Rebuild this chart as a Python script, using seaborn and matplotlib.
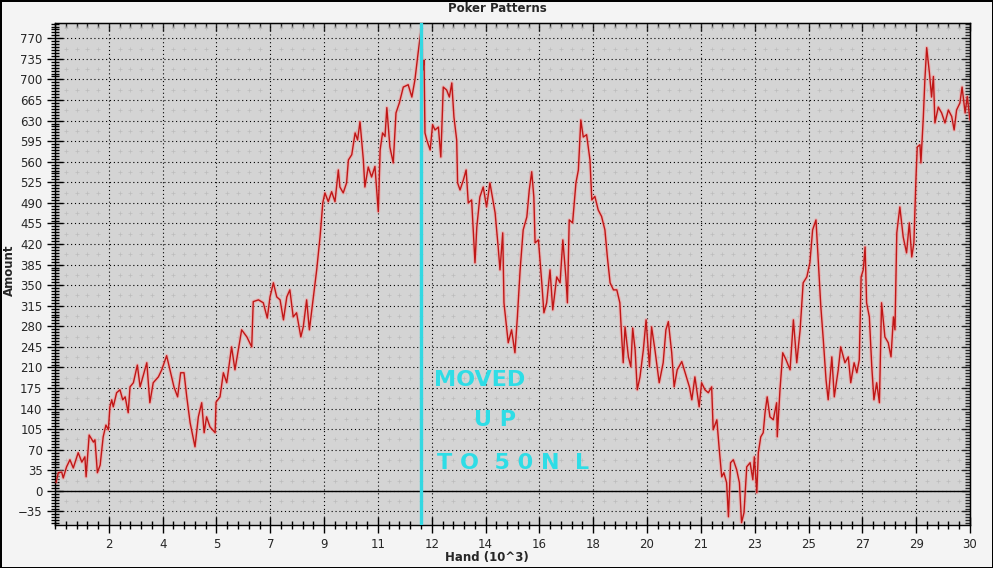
import numpy as np
import seaborn as sns
import matplotlib.pyplot as plt
from matplotlib.ticker import AutoMinorLocator

# running total, hands in thousands
hands = [
    0.03, 0.11, 0.22, 0.27, 0.38, 0.49, 0.60, 0.76, 0.88, 0.98,
    1.02, 1.09, 1.12, 1.26, 1.31, 1.39, 1.48, 1.58, 1.67, 1.75,
    1.80, 1.86, 1.91, 2.02, 2.13, 2.22, 2.30, 2.40, 2.46, 2.57,
    2.70, 2.79, 2.88, 3.01, 3.11, 3.22, 3.39, 3.50, 3.66, 3.77,
    3.90, 4.02, 4.12, 4.23, 4.32, 4.43, 4.59, 4.70, 4.81, 4.89,
    4.97, 5.08, 5.25, 5.28, 5.41, 5.52, 5.63, 5.79, 5.90, 6.01,
    6.12, 6.29, 6.45, 6.50, 6.67, 6.83, 6.96, 7.05, 7.16, 7.27,
    7.38, 7.49, 7.60, 7.70, 7.81, 7.92, 8.06, 8.14, 8.25, 8.34,
    8.47, 8.58, 8.69, 8.78, 8.85, 8.96, 9.07, 9.18, 9.29, 9.34,
    9.45, 9.56, 9.62, 9.73, 9.84, 9.92, 10.00, 10.11, 10.16, 10.27,
    10.38, 10.49, 10.60, 10.66, 10.74, 10.82, 10.88, 10.98, 11.09, 11.18,
    11.29, 11.42, 11.58, 11.70, 11.80, 11.91, 12.00, 12.06, 12.10, 12.13,
    12.19, 12.30, 12.38, 12.46, 12.57, 12.65, 12.73, 12.84, 12.93, 13.01,
    13.08, 13.17, 13.20, 13.28, 13.39, 13.48, 13.55, 13.66, 13.77, 13.83,
    13.93, 14.04, 14.15, 14.26, 14.43, 14.53, 14.59, 14.68, 14.72, 14.79,
    14.86, 14.97, 15.08, 15.16, 15.25, 15.35, 15.47, 15.55, 15.63, 15.70,
    15.74, 15.85, 15.96, 16.03, 16.12, 16.23, 16.32, 16.45, 16.56, 16.65,
    16.75, 16.80, 16.86, 16.97, 17.08, 17.16, 17.24, 17.32, 17.43, 17.54,
    17.60, 17.70, 17.81, 17.92, 18.03, 18.11, 18.20, 18.31, 18.42, 18.52,
    18.58, 18.63, 18.69, 18.80, 18.88, 18.94, 19.02, 19.09, 19.18, 19.29,
    19.38, 19.49, 19.56, 19.67, 19.81, 19.94, 20.03, 20.11, 20.22, 20.30,
    20.40, 20.55, 20.66, 20.80, 20.88, 20.98, 21.12, 21.20, 21.31, 21.42,
    21.53, 21.58, 21.70, 21.78, 21.86, 21.93, 22.02, 22.08, 22.15, 22.24,
    22.35, 22.44, 22.51, 22.59, 22.68, 22.79, 22.88, 22.93, 23.01, 23.06,
    23.14, 23.22, 23.28, 23.35, 23.44, 23.55, 23.66, 23.68, 23.77, 23.86,
    23.97, 24.10, 24.21, 24.32, 24.43, 24.53, 24.65, 24.75, 24.84, 24.95,
    25.03, 25.11, 25.19, 25.28, 25.35, 25.47, 25.55, 25.68, 25.76, 25.90,
    26.01, 26.09, 26.20, 26.29, 26.37, 26.43, 26.50, 26.56, 26.61, 26.70,
    26.78, 26.85, 26.94, 27.03, 27.10, 27.21, 27.32, 27.41, 27.49, 27.54,
    27.60, 27.70, 27.81, 27.92, 28.01, 28.09, 28.16, 28.23, 28.27, 28.36,
    28.39, 28.47, 28.52, 28.58, 28.67, 28.74, 28.80, 28.85, 28.96, 29.07,
    29.18, 29.29, 29.40, 29.48, 29.56, 29.67, 29.74, 29.84, 29.91, 30.00,
]
amounts = [
    14, 31, 32, 22, 41, 53, 39, 65, 49, 58,
    24, 75, 95, 83, 87, 31, 44, 92, 112, 104,
    143, 155, 143, 167, 172, 155, 160, 133, 177, 184,
    214, 177, 194, 218, 150, 184, 194, 206, 230, 206,
    177, 160, 201, 201, 160, 116, 75, 126, 150, 99,
    126, 109, 99, 151, 160, 201, 184, 245, 206, 240,
    274, 262, 245, 322, 325, 320, 294, 330, 354, 330,
    325, 291, 330, 342, 296, 303, 262, 279, 325, 274,
    330, 376, 432, 490, 507, 492, 509, 492, 546, 517,
    507, 524, 563, 572, 609, 597, 628, 563, 517, 551,
    534, 552, 475, 580, 609, 603, 652, 585, 558, 643,
    660, 687, 691, 670, 699, 747, 784, 716, 733, 609,
    597, 580, 623, 614, 619, 568, 687, 682, 670, 694,
    636, 597, 524, 512, 529, 546, 490, 495, 388, 449,
    500, 517, 483, 524, 473, 415, 376, 439, 320, 286,
    252, 274, 235, 296, 376, 444, 466, 512, 543, 500,
    422, 427, 354, 303, 320, 376, 308, 364, 354, 427,
    364, 320, 461, 456, 524, 546, 631, 602, 606, 563,
    495, 501, 478, 467, 444, 398, 354, 342, 342, 320,
    262, 218, 279, 228, 211, 277, 240, 172, 194, 240,
    291, 211, 279, 240, 184, 218, 274, 288, 235, 177,
    206, 220, 201, 177, 155, 194, 143, 184, 172, 167,
    177, 104, 121, 70, 24, 31, 14, -44, 48, 53,
    36, 14, -54, -37, 41, 48, 19, 58, -3, 65,
    92, 99, 133, 160, 126, 121, 150, 92, 172, 235,
    223, 206, 291, 218, 274, 354, 364, 388, 444, 461,
    388, 313, 257, 189, 155, 228, 160, 206, 245, 218,
    228, 184, 218, 201, 223, 364, 376, 415, 320, 296,
    211, 155, 184, 150, 320, 262, 252, 228, 296, 274,
    439, 483, 432, 405, 456, 398, 422, 534, 585, 589,
    558, 636, 699, 754, 711, 670, 705, 626, 653, 643,
    626, 648, 637, 614, 648, 660, 687, 643, 671, 631,
]

xtick_labels = ['2', '4', '5', '7', '9', '11', '12', '14', '16', '18',
                '20', '21', '23', '25', '27', '29', '30']
ytick_values = list(range(-35, 771, 35))
move_up_hand = 12.0

sns.set_style('ticks', {'axes.facecolor': '#d4d4d4', 'axes.edgecolor': 'black'})
plt.rcParams['font.family'] = ['DejaVu Sans']

fig = plt.figure(figsize=(9.93, 5.68), dpi=100, facecolor='#f4f4f4',
                 edgecolor='black', linewidth=2)
ax = fig.add_axes([55 / 993, 1 - 525 / 568, 915 / 993, 502 / 568])

ax.set_xlim(0, 30)
ax.set_ylim(-58, 796)

xtick_pos = np.linspace(0, 30, len(xtick_labels) + 1)[1:]
ax.set_xticks(xtick_pos)
ax.set_xticklabels(xtick_labels)
ax.set_yticks(ytick_values)
ax.xaxis.set_minor_locator(AutoMinorLocator(5))
ax.yaxis.set_minor_locator(AutoMinorLocator(7))
ax.tick_params(which='major', direction='inout', length=11, width=1,
               labelsize=8.5, pad=3.5, color='black')
ax.tick_params(which='minor', direction='inout', length=5.5, width=1, color='black')

# major grid, dotted
ax.grid(which='major', linestyle=(0, (1, 2.5)), color='black', linewidth=0.8)
ax.set_axisbelow(True)

# faint cross marks between the major grid
minor_x = [v for v in ax.xaxis.get_minorticklocs() if v not in xtick_pos]
half_y = [v + 17.5 for v in ytick_values]
gx, gy = np.meshgrid(minor_x, half_y)
ax.scatter(gx.ravel(), gy.ravel(), marker='+', s=5, linewidths=0.5,
           color='#bcbcbc', zorder=0.5)

# top and right ticks
sec_x = ax.secondary_xaxis('top')
sec_x.set_xticks(xtick_pos)
sec_x.xaxis.set_minor_locator(AutoMinorLocator(5))
sec_x.tick_params(which='major', direction='in', length=6, width=1, labeltop=False)
sec_x.tick_params(which='minor', direction='in', length=3.5, width=1)
sec_y = ax.secondary_yaxis('right')
sec_y.set_yticks(ytick_values)
sec_y.yaxis.set_minor_locator(AutoMinorLocator(7))
sec_y.tick_params(which='major', direction='in', length=6, width=1, labelright=False)
sec_y.tick_params(which='minor', direction='in', length=3.5, width=1)

for sp in ax.spines.values():
    sp.set_linewidth(1)

ax.axhline(0, color='black', linewidth=1, zorder=1)

# halo + line
sns.lineplot(x=hands, y=amounts, ax=ax, color='#f2a0a0', linewidth=2.6,
             alpha=0.6, estimator=None, sort=False, zorder=2)
sns.lineplot(x=hands, y=amounts, ax=ax, color='#c01616', linewidth=1.0,
             estimator=None, sort=False, zorder=3)

ax.axvline(move_up_hand, color='#33d8e2', linewidth=2.4, zorder=4)

cyan = '#2edde6'
ax.text(12.42, 189, 'MOVED', color=cyan, fontsize=16, fontweight='bold',
        ha='left', va='center', zorder=5)
ax.text(14.43, 121, 'U P', color=cyan, fontsize=16, fontweight='bold',
        ha='center', va='center', zorder=5)
ax.text(12.52, 48, 'T O  5 0 N  L', color=cyan, fontsize=16, fontweight='bold',
        ha='left', va='center', zorder=5)

ax.set_xlabel('')
ax.set_ylabel('')
fig.text(497 / 993, 1 - 8 / 568, 'Poker Patterns', ha='center', va='center',
         fontsize=8.5, fontweight='bold')
fig.text(487 / 993, 1 - 557 / 568, 'Hand (10^3)', ha='center', va='center',
         fontsize=8.5, fontweight='bold')
fig.text(9 / 993, 1 - 270 / 568, 'Amount', ha='center', va='center',
         rotation=90, fontsize=8.5, fontweight='bold')

fig.savefig('out.png', dpi=100)
